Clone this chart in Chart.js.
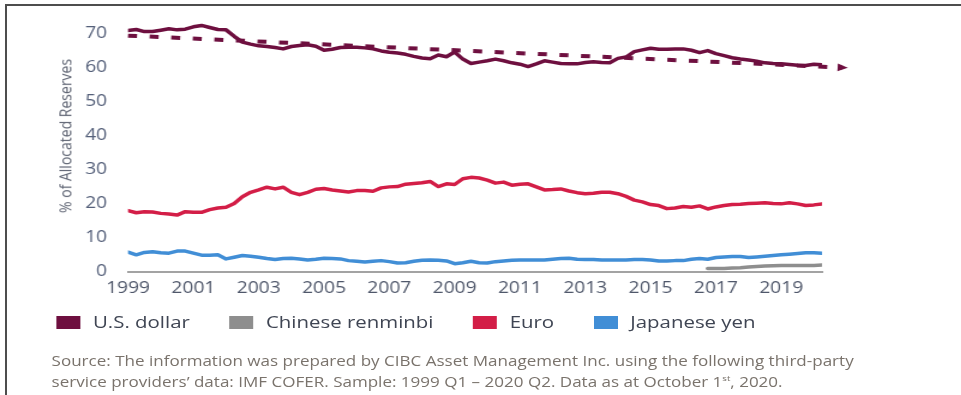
<!DOCTYPE html>
<html>
<head>
<meta charset="utf-8">
<script src="https://cdn.jsdelivr.net/npm/chart.js@4"></script>
<style>
  html, body { margin: 0; padding: 0; background: #fff; width: 961px; height: 395px; overflow: hidden; }
  #stage { position: absolute; left: 0; top: 0; width: 801px; height: 395px; transform: scaleX(1.2); transform-origin: 0 0; }
  #chart { position: absolute; left: 0; top: 0; }
  #ytitle { position: absolute; left: 54px; top: 136px; transform: translate(-50%, -50%) rotate(-90deg);
            white-space: nowrap; font: 14px 'Open Sans', sans-serif; color: #5b6170; }
  #legend { position: absolute; left: 47px; top: 312px; display: flex; gap: 33px;
            font: 17px 'Open Sans', sans-serif; line-height: 20px; color: #3f4553; }
  .item { display: flex; align-items: center; }
  .swatch { width: 20px; height: 13px; margin-right: 10.5px; }
  #source { position: absolute; left: 43px; top: 350px; font: 14.2px 'Open Sans', sans-serif; line-height: 21px; color: #7a736c; white-space: nowrap; }
  .rule { position: absolute; background: #4d4d4d; }
</style>
</head>
<body>
<div id="stage">
  <canvas id="chart" width="801" height="310"></canvas>
  <div id="ytitle">% of Allocated Reserves</div>
  <div id="legend"></div>
  <div id="source">Source: The information was prepared by CIBC Asset Management Inc. using the following third-party<br>service providers’ data: IMF COFER. Sample: 1999 Q1 – 2020 Q2. Data as at October 1<sup style="font-size:8px;line-height:0">st</sup>, 2020.</div>
</div>
<div class="rule" style="left:5px;top:4px;width:956px;height:2px"></div>
<div class="rule" style="left:5px;top:4px;width:2px;height:391px"></div>
<script>
// Quarterly share of allocated FX reserves (%), 1999 Q1 – 2020 Q2
const usDollar = [
  70.9, 71.2, 70.6, 70.6, 71.0, 71.4, 71.1, 71.3, 72.0, 72.4,
  71.8, 71.2, 71.1, 69.2, 67.5, 66.9, 66.4, 66.2, 65.9, 65.5,
  66.2, 66.5, 66.7, 66.3, 65.1, 65.4, 65.9, 66.0, 66.0, 65.8,
  65.5, 64.9, 64.5, 64.3, 63.9, 63.3, 62.8, 62.6, 63.7, 63.2,
  64.6, 62.5, 61.2, 61.6, 62.0, 62.5, 62.0, 61.4, 61.0, 60.3,
  61.1, 62.0, 61.6, 61.2, 61.1, 61.1, 61.5, 61.7, 61.5, 61.4,
  62.7, 63.1, 64.7, 65.2, 65.7, 65.4, 65.4, 65.5, 65.5, 65.1,
  64.4, 65.0, 64.1, 63.5, 62.9, 62.5, 62.2, 61.9, 61.4, 61.2,
  61.1, 60.9, 60.7, 60.6, 61.0, 60.8
];
const euro = [
  17.9, 17.3, 17.6, 17.5, 17.1, 16.9, 16.6, 17.6, 17.4, 17.4,
  18.2, 18.7, 18.9, 20.0, 22.0, 23.3, 24.0, 24.8, 24.3, 24.8,
  23.3, 22.6, 23.3, 24.2, 24.4, 24.0, 23.7, 23.4, 23.8, 23.8,
  23.6, 24.6, 24.9, 25.0, 25.7, 25.9, 26.1, 26.5, 25.0, 25.8,
  25.6, 27.3, 27.7, 27.5, 26.9, 26.0, 26.3, 25.4, 25.7, 25.8,
  24.9, 24.0, 24.1, 24.3, 23.7, 23.2, 22.9, 23.0, 23.3, 23.3,
  22.9, 22.1, 21.0, 20.5, 19.7, 19.4, 18.5, 18.7, 19.1, 18.9,
  19.3, 18.4, 19.0, 19.4, 19.7, 19.8, 20.0, 20.1, 20.2, 20.0,
  19.9, 20.2, 19.9, 19.4, 19.6, 19.9
];
const japaneseYen = [
  5.7, 4.9, 5.6, 5.8, 5.5, 5.4, 6.0, 6.0, 5.4, 4.8,
  4.8, 4.9, 3.7, 4.2, 4.7, 4.5, 4.2, 3.8, 3.5, 3.8,
  3.9, 3.7, 3.4, 3.6, 3.9, 3.8, 3.7, 3.2, 3.0, 2.8,
  3.0, 3.2, 2.9, 2.5, 2.6, 3.0, 3.3, 3.4, 3.3, 3.1,
  2.3, 2.6, 3.0, 2.6, 2.5, 2.9, 3.1, 3.3, 3.4, 3.4,
  3.4, 3.4, 3.6, 3.8, 3.9, 3.6, 3.5, 3.5, 3.4, 3.4,
  3.4, 3.4, 3.5, 3.5, 3.4, 3.1, 3.1, 3.2, 3.2, 3.6,
  3.8, 3.6, 4.1, 4.3, 4.4, 4.4, 4.1, 4.3, 4.5, 4.7,
  4.9, 5.1, 5.3, 5.5, 5.5, 5.4
];
// Renminbi is reported from 2016 Q4 onward
const renminbiFrom = '2016 Q4';
const chineseRenminbi = [0.9, 0.9, 0.9, 1.0, 1.1, 1.3, 1.5, 1.6, 1.7, 1.8, 1.8, 1.8, 1.8, 1.8, 1.9];

// Dollar-share trend: quarter index and value at each end
const trendQuarter = [0, 87.5];
const trendValue = [69.4, 60.0];

const yearTicks = ['1999', '2001', '2003', '2005', '2007', '2009', '2011', '2013', '2015', '2017', '2019'];
const valueTicks = [0, 10, 20, 30, 40, 50, 60, 70];

const quarters = [];
for (let y = 1999; y <= 2020; y++) {
  for (let q = 1; q <= 4; q++) {
    quarters.push(y + ' Q' + q);
    if (y === 2020 && q === 2) break;
  }
}

const COLORS = {
  usd: '#6e0f3f',
  cny: '#8e8e8e',
  eur: '#d31e47',
  jpy: '#418ed6'
};

const series = [
  { label: 'U.S. dollar', values: usDollar, start: 0, color: COLORS.usd },
  { label: 'Chinese renminbi', values: chineseRenminbi, start: quarters.indexOf(renminbiFrom), color: COLORS.cny },
  { label: 'Euro', values: euro, start: 0, color: COLORS.eur },
  { label: 'Japanese yen', values: japaneseYen, start: 0, color: COLORS.jpy }
];

const toPoints = (vals, start) => vals.map((v, i) => ({ x: start + i, y: v }));

const datasets = series.map(s => ({
  label: s.label,
  data: toPoints(s.values, s.start),
  borderColor: s.color,
  backgroundColor: s.color,
  borderWidth: 3.5,
  borderJoinStyle: 'round',
  borderCapStyle: 'round',
  pointRadius: 0,
  tension: 0
}));

datasets.push({
  label: 'Trend',
  data: trendQuarter.map((x, i) => ({ x, y: trendValue[i] })),
  borderColor: COLORS.usd,
  backgroundColor: COLORS.usd,
  borderWidth: 4,
  borderDash: [7.5, 10.5],
  pointRadius: 0,
  clip: false,
  tension: 0
});

// Arrowhead at the far end of the trend line, oriented along the line
const arrowHead = {
  id: 'arrowHead',
  afterDatasetsDraw(chart) {
    const idx = chart.data.datasets.findIndex(d => d.label === 'Trend');
    const pts = chart.getDatasetMeta(idx).data;
    const a = pts[pts.length - 2], b = pts[pts.length - 1];
    const ang = Math.atan2(b.y - a.y, b.x - a.x);
    const ctx = chart.ctx;
    ctx.save();
    ctx.translate(b.x, b.y);
    ctx.rotate(ang);
    ctx.beginPath();
    ctx.moveTo(4.5, 0);
    ctx.lineTo(-4, -3.8);
    ctx.lineTo(-4, 3.8);
    ctx.closePath();
    ctx.fillStyle = COLORS.usd;
    ctx.fill();
    ctx.restore();
  }
};

const tickFont = { family: "'Open Sans', sans-serif", size: 16 };

new Chart(document.getElementById('chart'), {
  type: 'line',
  data: { datasets },
  plugins: [arrowHead],
  options: {
    responsive: false,
    animation: false,
    devicePixelRatio: 1,
    layout: { padding: { top: 20, right: 116, left: 0, bottom: 0 } },
    plugins: { legend: { display: false }, tooltip: { enabled: false } },
    scales: {
      x: {
        type: 'linear',
        min: 0,
        max: quarters.length - 1,
        grid: { display: false, drawTicks: false },
        border: { display: true, color: '#a3a3a3', width: 2 },
        ticks: {
          padding: 7,
          font: tickFont,
          color: '#4f576a',
          autoSkip: false,
          maxRotation: 0,
          callback: v => quarters[v] ? quarters[v].slice(0, 4) : ''
        },
        afterBuildTicks: s => { s.ticks = yearTicks.map(y => ({ value: quarters.indexOf(y + ' Q1') })); },
        afterFit: s => { s.height = 38.5; s.paddingLeft = 0; s.paddingRight = 0; }
      },
      y: {
        min: 0,
        max: 74,
        grid: { display: false, drawTicks: false },
        border: { display: false },
        ticks: { padding: 17.5, font: tickFont, color: '#55607a' },
        afterBuildTicks: s => { s.ticks = valueTicks.map(v => ({ value: v })); },
        afterFit: s => { s.width = 106.7; s.paddingTop = 0; s.paddingBottom = 0; }
      }
    }
  }
});

// Legend
const legend = document.getElementById('legend');
series.forEach(s => {
  const item = document.createElement('div');
  item.className = 'item';
  const sw = document.createElement('span');
  sw.className = 'swatch';
  sw.style.background = s.color;
  const tx = document.createElement('span');
  tx.textContent = s.label;
  item.appendChild(sw);
  item.appendChild(tx);
  legend.appendChild(item);
});
</script>
</body>
</html>
